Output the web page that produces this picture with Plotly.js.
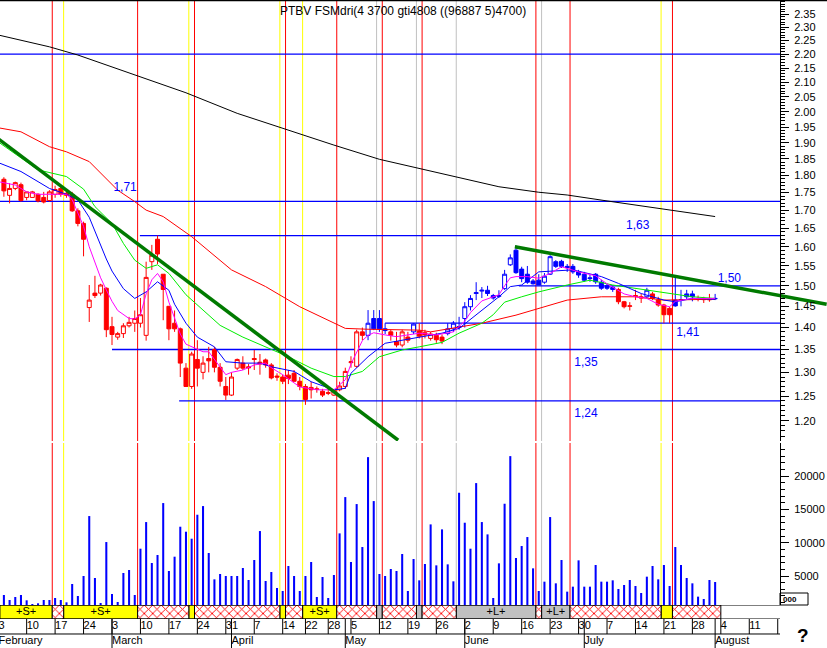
<!DOCTYPE html>
<html><head><meta charset="utf-8">
<script src="https://cdn.plot.ly/plotly-3.0.1.min.js"></script>
<style>html,body{margin:0;padding:0;background:#fff}#chart{width:827px;height:648px}</style>
</head><body><div id="chart"></div>
<script>
// ---------------- DATA ----------------
const holidays = ['2003-04-18','2003-04-21','2003-05-01'];
const firstCandleIndex = 1; // 2003-02-04

const open = [1.789,1.742,1.762,1.773,1.736,1.736,1.745,1.736,1.727,1.745,
1.762,1.748,1.745,1.698,1.663,1.447,1.482,1.482,1.494,1.402,
1.378,1.386,1.404,1.41,1.41,1.382,1.561,1.620,1.529,1.450,
1.410,1.397,1.309,1.270,1.328,1.300,1.33,1.350,1.311,1.270,
1.252,1.309,1.320,1.312,1.33,1.322,1.327,1.316,1.292,1.29,
1.294,1.298,1.281,1.270,1.268,1.265,1.260,1.257,1.252,1.263,
1.270,1.321,1.313,1.39,1.382,1.421,1.421,1.397,1.39,1.368,
1.36,1.378,1.39,1.392,1.388,1.375,1.382,1.378,1.386,1.397,
1.40,1.421,1.449,1.481,1.487,1.489,1.476,1.474,1.493,1.553,
1.591,1.542,1.529,1.512,1.514,1.509,1.529,1.561,1.562,1.549,
1.549,1.535,1.529,1.52,1.529,1.509,1.50,1.496,1.491,1.461,
1.450,1.476,1.473,1.473,1.48,1.465,1.453,1.445,1.465,1.466,
1.48,1.48,1.469,1.466,1.467,1.468];
const high = [1.795,1.777,1.782,1.779,1.752,1.755,1.748,1.752,1.757,1.77,
1.768,1.752,1.752,1.705,1.668,1.502,1.525,1.505,1.496,1.425,
1.39,1.41,1.425,1.44,1.47,1.561,1.605,1.63,1.529,1.45,
1.44,1.40,1.32,1.345,1.371,1.335,1.356,1.356,1.32,1.29,
1.30,1.33,1.335,1.318,1.349,1.34,1.33,1.32,1.298,1.295,
1.305,1.305,1.29,1.275,1.28,1.27,1.265,1.27,1.265,1.28,
1.31,1.335,1.395,1.40,1.441,1.441,1.441,1.41,1.395,1.39,
1.395,1.39,1.41,1.41,1.395,1.39,1.388,1.384,1.41,1.415,
1.425,1.46,1.477,1.509,1.497,1.50,1.48,1.489,1.54,1.58,
1.603,1.548,1.55,1.517,1.529,1.532,1.578,1.565,1.566,1.555,
1.555,1.54,1.535,1.528,1.532,1.515,1.505,1.50,1.495,1.463,
1.46,1.49,1.48,1.495,1.485,1.473,1.456,1.449,1.523,1.49,
1.49,1.488,1.476,1.473,1.48,1.48];
const low = [1.738,1.719,1.757,1.724,1.728,1.736,1.722,1.719,1.724,1.735,
1.738,1.735,1.695,1.655,1.575,1.413,1.47,1.476,1.378,1.36,
1.372,1.376,1.40,1.39,1.40,1.37,1.54,1.555,1.417,1.371,
1.39,1.29,1.27,1.265,1.27,1.285,1.30,1.30,1.27,1.242,
1.25,1.305,1.305,1.295,1.305,1.295,1.31,1.285,1.282,1.275,
1.275,1.28,1.262,1.232,1.245,1.257,1.248,1.252,1.25,1.26,
1.265,1.31,1.31,1.371,1.371,1.394,1.39,1.385,1.37,1.355,
1.355,1.365,1.385,1.375,1.375,1.37,1.365,1.362,1.382,1.39,
1.395,1.40,1.44,1.465,1.47,1.475,1.466,1.47,1.49,1.55,
1.53,1.509,1.505,1.503,1.502,1.505,1.527,1.545,1.545,1.535,
1.53,1.52,1.51,1.51,1.505,1.49,1.49,1.485,1.455,1.445,
1.44,1.465,1.458,1.47,1.465,1.449,1.41,1.41,1.449,1.45,
1.465,1.462,1.462,1.458,1.461,1.465];
const close = [1.755,1.762,1.779,1.727,1.752,1.752,1.726,1.723,1.752,1.759,
1.745,1.742,1.698,1.663,1.620,1.465,1.476,1.502,1.395,1.384,
1.386,1.404,1.412,1.421,1.43,1.521,1.578,1.581,1.491,1.397,
1.397,1.320,1.270,1.340,1.309,1.320,1.325,1.311,1.281,1.252,
1.290,1.328,1.309,1.310,1.328,1.318,1.316,1.288,1.290,1.281,
1.287,1.281,1.270,1.243,1.263,1.264,1.252,1.256,1.262,1.271,
1.302,1.323,1.39,1.382,1.41,1.397,1.397,1.393,1.382,1.36,
1.39,1.371,1.408,1.38,1.383,1.385,1.372,1.369,1.397,1.410,
1.402,1.449,1.469,1.483,1.489,1.481,1.47,1.476,1.529,1.571,
1.533,1.518,1.509,1.505,1.502,1.524,1.574,1.549,1.549,1.546,
1.535,1.527,1.514,1.518,1.51,1.494,1.494,1.491,1.461,1.449,
1.451,1.474,1.47,1.489,1.469,1.453,1.43,1.43,1.451,1.464,
1.473,1.473,1.468,1.467,1.466,1.469];
const volume = [2150,1400,1850,2150,1350,800,900,1400,1400,1700,
1400,1050,3800,2000,5000,14000,4700,950,10100,2300,
1100,5450,5900,2150,9100,13100,6950,8150,15950,5750,
7900,12400,11650,10600,14200,15500,8450,4500,5300,5000,
5000,5000,6200,4400,7400,11750,4250,5600,3200,2750,
6500,5000,2750,5000,7100,1850,4850,1700,5150,11400,
16850,7100,15800,9350,22850,16250,5300,5000,6050,5750,
8300,2750,7550,4350,6800,12750,6600,12000,6750,4200,
17500,13000,9100,18950,13100,11250,1700,6900,15850,23000,
7700,9500,10850,6150,2750,4150,13850,3900,7400,2650,
3400,7350,3400,3400,6650,4150,4150,4350,3050,3650,
4400,3500,2450,4900,6500,4500,6650,3500,9350,6650,
4700,3900,1900,1550,4400,4100];
// trend state of each candle: S = short (red), L = long (blue)
const signal = ('SSSSSSSSSS'+'SSSSSSSSSS'+'SSSSSSSSSS'+'SSSSSSSSSS'+'SSSSSSSSSS'+'SSSSSSSSSS'+
  'SSSSLLLLSS'+'SSLSSSSSLL'+'LLLLLLLLLL'+'LLLLLLLLLL'+'LLLLLLLLSS'+'SSSLSSSSLL'+'LLSSSL').split('');

// moving averages sampled at trading-day numbers
const ma200Days = [0,9,14,24,33,42,50,59,67,75,81,88,95,100,107,116,126];
const ma200 = [2.271,2.227,2.197,2.126,2.064,1.995,1.946,1.893,1.849,1.817,1.792,1.767,1.751,1.743,1.726,1.705,1.682];
const ma50Days = [0,4,9,12,16,18,21,24,26,29,34,41,47,53,59,61,65,74,76,85,91,97,100,106,112,117,126];
const ma50 = [1.948,1.935,1.888,1.872,1.842,1.807,1.757,1.724,1.700,1.682,1.627,1.540,1.498,1.449,1.410,1.398,1.396,1.394,1.390,1.410,1.429,1.453,1.465,1.473,1.473,1.465,1.467];
const ma20Days = [0,7,12,15,17,20,22,24,26,28,30,33,36,39,43,47,51,55,59,61,64,67,71,74,78,81,85,87,89,92,95,100,104,108,112,118,122,126];
const ma20 = [1.903,1.817,1.797,1.76,1.71,1.663,1.609,1.565,1.544,1.553,1.531,1.478,1.441,1.405,1.378,1.356,1.334,1.309,1.291,1.291,1.302,1.334,1.349,1.356,1.366,1.387,1.41,1.43,1.46,1.473,1.485,1.502,1.514,1.502,1.494,1.481,1.473,1.469];
const ma10Days = [0,4,7,9,12,14,16,17,19,20,22,24,26,28,30,31,33,35,38,40,43,46,48,52,55,59,61,62,65,68,71,74,78,81,85,88,90,92,95,101,106,109,113,117,119,122,126];
const ma10 = [1.839,1.812,1.782,1.762,1.745,1.729,1.68,1.64,1.568,1.537,1.493,1.469,1.485,1.510,1.489,1.455,1.410,1.378,1.356,1.323,1.320,1.320,1.312,1.302,1.280,1.263,1.266,1.298,1.334,1.364,1.371,1.379,1.387,1.398,1.441,1.473,1.498,1.502,1.535,1.540,1.523,1.506,1.481,1.465,1.461,1.469,1.467];
const ma5Days = [0,3,5,7,10,12,13,14,15,16,17,18,19,20,21,23,24,25,26,27,28,29,30,31,32,33,34,36,37,39,40,41,43,45,47,48,50,53,56,59,61,62,63,64,65,66,68,70,72,74,77,80,82,83,85,87,88,89,90,91,93,95,97,99,102,105,107,110,112,114,116,118,119,122,126];
const ma5 = [1.782,1.772,1.752,1.745,1.745,1.745,1.73,1.69,1.655,1.60,1.56,1.52,1.49,1.462,1.44,1.421,1.42,1.43,1.48,1.515,1.531,1.51,1.46,1.42,1.385,1.362,1.356,1.345,1.345,1.312,1.295,1.30,1.305,1.316,1.32,1.31,1.295,1.269,1.263,1.263,1.284,1.318,1.345,1.37,1.382,1.388,1.383,1.379,1.383,1.387,1.383,1.39,1.415,1.435,1.463,1.473,1.478,1.50,1.52,1.523,1.523,1.519,1.531,1.548,1.535,1.525,1.505,1.48,1.473,1.469,1.455,1.449,1.462,1.469,1.469];

// support / resistance levels
const levelValues = [2.20, 1.725, 1.63, 1.50, 1.41, 1.35, 1.24];
const levelStartDay = [0.3, 0.3, 24.9, 91.5, 68, 20, 31.8];
const levelLabels = ['', '1,71', '1,63', '1,50', '1,41', '1,35', '1,24'];

// trend lines (day, price)
const trend1 = {days:[0, 70.3], prices:[1.913, 1.162]};
const trend2 = {days:[90.8, 145.6], prices:[1.600, 1.455]};

// signal days (vertical markers)
const redSignals = [9.5,24.5,34.5,50.5,59.5,67.5,74.5,94.5,100.5,118.5];
const yellowSignals = [11.5,33.5,49.5,53.5,116.5];
const graySignals = [66.5,73.5,80.5,95.5];

// signal strip
const stripBounds = [0.3,9.5,11.5,24.5,33.5,34.5,49.5,50.5,53.5,59.5,66.5,67.5,73.5,74.5,80.5,94.5,95.5,100.5,116.5,118.5,127];
const stripKinds  = ['S','X','S','X','S','X','S','X','S','X','L','X','L','X','L','X','L','X','S','X'];
const stripLabels = ['+S+','','+S+','','','','','','+S+','','','','','','+L+','','+L+','','',''];

const priceTicks = [1.20,1.25,1.30,1.35,1.40,1.45,1.50,1.55,1.60,1.65,1.70,1.75,1.80,1.85,1.90,1.95,2.00,2.05,2.10,2.15,2.20,2.25,2.30,2.35];
const priceTickText = ['1.20','1.25','1.30','1.35','1.40','1.45','1.50','1.55','1.60','1.65','1.70','1.75','1.80','1.85','1.90','1.95','2.00','2.05','2.10','2.15','2.20','2.25','2.30','2.35'];
const volTicks = [5000,10000,15000,20000];
const volTickText = ['5000','10000','15000','20000'];
const monthLabels = ['February','March','April','May','June','July','August'];
const titleText = 'PTBV FSMdri(4 3700 gti4808 ((96887 5)4700)';

// ---------------- BUILD ----------------
const W = 827, H = 648;
const px = x => x / W, py = y => 1 - y / H;
const FONT = 'Liberation Sans, Arial, sans-serif';

const tradingDays = [];
{
  const d = new Date(Date.UTC(2003,1,3));
  while (tradingDays.length < 145) {
    const wd = d.getUTCDay(), s = d.toISOString().slice(0,10);
    if (wd !== 0 && wd !== 6 && !holidays.includes(s)) tradingDays.push(s);
    d.setUTCDate(d.getUTCDate()+1);
  }
}
const xRange = [0.316, 145.66];
const axisFrac = 780 / W;
const axisDay = xRange[0] + (xRange[1]-xRange[0]) * axisFrac;

const weekIdx = [], weekText = [], monthIdx = [];
tradingDays.forEach((s, i) => {
  const d = new Date(s + 'T00:00:00Z');
  const p = i ? new Date(tradingDays[i-1] + 'T00:00:00Z') : null;
  if (i <= 137 && (!p || d.getUTCDay() < p.getUTCDay())) { weekIdx.push(i); weekText.push(String(d.getUTCDate())); }
  if (!p || d.getUTCMonth() !== p.getUTCMonth()) monthIdx.push(i);
});
const labelX = i => Math.max(i, xRange[0] - 0.25);

const candleX = open.map((_, k) => firstCandleIndex + k);
const traces = [];

// volume
traces.push({type:'bar', x:candleX, y:volume, xaxis:'x', yaxis:'y2', width:0.36,
  marker:{color:'#0000ff', line:{width:0}}, hoverinfo:'skip'});

// strip
const sc = [], sw = [], sk = [];
for (let k = 0; k < stripKinds.length; k++) {
  sc.push((stripBounds[k] + stripBounds[k+1]) / 2);
  sw.push(stripBounds[k+1] - stripBounds[k]);
  sk.push(stripKinds[k]);
}
const solid = sk.map((k,i)=>i).filter(i=>sk[i] !== 'X');
const hatch = sk.map((k,i)=>i).filter(i=>sk[i] === 'X');
traces.push({type:'bar', x:solid.map(i=>sc[i]), y:solid.map(()=>1), width:solid.map(i=>sw[i]), xaxis:'x', yaxis:'y3',
  marker:{color:solid.map(i=>sk[i]==='S' ? '#ffff00' : '#c0c0c0'), line:{color:'#000', width:1}}, hoverinfo:'skip'});
traces.push({type:'bar', x:hatch.map(i=>sc[i]), y:hatch.map(()=>1), width:hatch.map(i=>sw[i]), xaxis:'x', yaxis:'y3',
  marker:{color:'#ff0000', pattern:{shape:'x', fgcolor:'#ff0000', bgcolor:'#ffffff', size:6, solidity:0.28, fillmode:'replace'},
  line:{color:'#000', width:1}}, hoverinfo:'skip'});
const lab = stripLabels.map((t,i)=>i).filter(i=>stripLabels[i]);
traces.push({type:'scatter', mode:'text', x:lab.map(i=>sc[i]), y:lab.map(()=>0.5), text:lab.map(i=>stripLabels[i]),
  xaxis:'x', yaxis:'y3', textfont:{family:FONT, size:11, color:'#000'}, hoverinfo:'skip'});

// candles
for (const [sig, col] of [['S','#ff0000'],['L','#0000ff']]) {
  const ix = candleX.map((_, k) => k).filter(k => signal[k] === sig);
  traces.push({type:'candlestick', x:ix.map(k=>candleX[k]), open:ix.map(k=>open[k]), high:ix.map(k=>high[k]),
    low:ix.map(k=>low[k]), close:ix.map(k=>close[k]), xaxis:'x', yaxis:'y', whiskerwidth:0,
    increasing:{line:{color:col, width:1}, fillcolor:'#ffffff'},
    decreasing:{line:{color:col, width:1}, fillcolor:col}, hoverinfo:'skip'});
}

// moving averages
const maDefs = [[ma200Days, ma200, '#000000'], [ma50Days, ma50, '#ff0000'], [ma20Days, ma20, '#00ee00'],
  [ma10Days, ma10, '#0000ff'], [ma5Days, ma5, '#ff00ff']];
for (const [dx, dy, col] of maDefs) {
  traces.push({type:'scatter', mode:'lines', x:dx, y:dy, xaxis:'x', yaxis:'y', line:{color:col, width:1}, hoverinfo:'skip'});
}
// trend lines
for (const t of [trend1, trend2]) {
  traces.push({type:'scatter', mode:'lines', x:t.days, y:t.prices, xaxis:'x', yaxis:'y', line:{color:'#007a00', width:3.5}, hoverinfo:'skip'});
}
// level labels (placed a few pixels off their lines)
const labelPlace = {1:[22.3,1.763], 2:[112.4,1.656], 3:[128.5,1.517], 4:[121.2,1.3875], 5:[103.3,1.320], 6:[103.3,1.213]};
const lk = Object.keys(labelPlace).map(Number);
traces.push({type:'scatter', mode:'text', x:lk.map(k=>labelPlace[k][0]), y:lk.map(k=>labelPlace[k][1]),
  text:lk.map(k=>levelLabels[k]), xaxis:'x', yaxis:'y', textfont:{family:FONT, size:12, color:'#0000ff'}, hoverinfo:'skip'});

// date labels
const wIdx = weekIdx.slice(0, -1);
traces.push({type:'scatter', mode:'text', x:wIdx.map(labelX), y:wIdx.map(()=>0.734), text:weekText.slice(0,-1),
  textposition:'middle right', marker:{size:1}, xaxis:'x', yaxis:'y4', textfont:{family:FONT, size:11, color:'#000'}, hoverinfo:'skip'});
const mIdx = monthIdx.slice(0, monthLabels.length);
traces.push({type:'scatter', mode:'text', x:mIdx.map(labelX), y:monthLabels.map(()=>0.224), text:monthLabels,
  textposition:'middle right', marker:{size:1}, xaxis:'x', yaxis:'y4', textfont:{family:FONT, size:11, color:'#000'}, hoverinfo:'skip'});

// ---------------- SHAPES ----------------
const shapes = [];
const vline = (d, col) => {
  shapes.push({type:'line', xref:'x', yref:'paper', x0:d, x1:d, y0:py(441), y1:1, line:{color:col, width:1}, layer:'below'});
  shapes.push({type:'line', xref:'x', yref:'paper', x0:d, x1:d, y0:py(605), y1:py(443), line:{color:col, width:1}, layer:'below'});
};
graySignals.forEach(d => vline(d, '#c0c0c0'));
yellowSignals.forEach(d => vline(d, '#ffff00'));
redSignals.forEach(d => vline(d, '#ff0000'));
levelValues.forEach((v, i) => shapes.push({type:'line', xref:'x', yref:'y', x0:levelStartDay[i], x1:axisDay, y0:v, y1:v,
  line:{color:'#0000ff', width:1.3}, layer:'below'}));
// strip frame
shapes.push({type:'line', xref:'x', yref:'y3', x0:xRange[0], x1:axisDay, y0:1, y1:1, line:{color:'#000', width:1}});
shapes.push({type:'line', xref:'x', yref:'y3', x0:xRange[0], x1:axisDay, y0:0, y1:0, line:{color:'#000', width:1}});
// date grid
weekIdx.forEach(i => shapes.push({type:'line', xref:'x', yref:'y4', x0:i, x1:i, y0:0.483, y1:1, line:{color:'#000', width:1}}));
monthIdx.slice(1, monthLabels.length).forEach(i => shapes.push({type:'line', xref:'x', yref:'y4', x0:i, x1:i, y0:0, y1:1, line:{color:'#000', width:1}}));
shapes.push({type:'line', xref:'x', yref:'y4', x0:xRange[0], x1:axisDay, y0:0.483, y1:0.483, line:{color:'#000', width:1}});
// top border and small box on the axis
shapes.push({type:'line', xref:'paper', yref:'paper', x0:0, x1:1, y0:py(0.5), y1:py(0.5), line:{color:'#000', width:1.5}});
shapes.push({type:'rect', xref:'paper', yref:'paper', x0:px(780), x1:px(808), y0:py(605), y1:py(593), line:{color:'#000', width:1}});

const annotations = [
  {xref:'paper', yref:'paper', x:px(278), y:py(11), xanchor:'left', yanchor:'middle', showarrow:false,
   text:titleText, font:{family:FONT, size:12, color:'#000'}},
  {xref:'paper', yref:'paper', x:px(781), y:py(599), xanchor:'left', yanchor:'middle', showarrow:false,
   text:'<b>000</b>', font:{family:FONT, size:8, color:'#000'}},
  {xref:'paper', yref:'paper', x:px(803), y:py(635), xanchor:'center', yanchor:'middle', showarrow:false,
   text:'<b>?</b>', font:{family:FONT, size:19, color:'#000'}}
];

const minorPrice = [];
for (let v = 117; v <= 240; v++) minorPrice.push(v / 100);
const minorVol = [];
for (let v = 1000; v <= 24000; v += 1000) minorVol.push(v);

const axisCommon = {anchor:'free', position:axisFrac, side:'right', showline:true, linecolor:'#000', linewidth:1,
  ticks:'outside', ticklen:8, tickwidth:1, tickcolor:'#000', showgrid:false, zeroline:false, fixedrange:true,
  tickfont:{family:FONT, size:11, color:'#000'}, ticklabelstandoff:3};

const layout = {
  width:W, height:H, margin:{l:0, r:0, t:0, b:0, pad:0},
  paper_bgcolor:'#fff', plot_bgcolor:'#fff', showlegend:false, hovermode:false, dragmode:false,
  barmode:'overlay', boxgap:0.3, boxgroupgap:0,
  font:{family:FONT},
  xaxis:{type:'linear', range:xRange, visible:false, rangeslider:{visible:false}, fixedrange:true},
  yaxis:Object.assign({}, axisCommon, {type:'log', domain:[py(441), 1], range:[0.06464, 0.38134],
    tickmode:'array', tickvals:priceTicks, ticktext:priceTickText,
    minor:{tickmode:'array', tickvals:minorPrice, ticks:'outside', ticklen:4, tickcolor:'#000', showgrid:false}}),
  yaxis2:Object.assign({}, axisCommon, {domain:[py(605), py(443)], range:[646, 24970],
    tickmode:'array', tickvals:volTicks, ticktext:volTickText,
    minor:{tickmode:'array', tickvals:minorVol, ticks:'outside', ticklen:4, tickcolor:'#000', showgrid:false}}),
  yaxis3:{domain:[py(619), py(605)], range:[0,1], visible:false, fixedrange:true},
  yaxis4:{domain:[0, py(619)], range:[0,1], visible:false, fixedrange:true},
  shapes, annotations
};

Plotly.newPlot('chart', traces, layout, {staticPlot:true, displayModeBar:false});
</script></body></html>
